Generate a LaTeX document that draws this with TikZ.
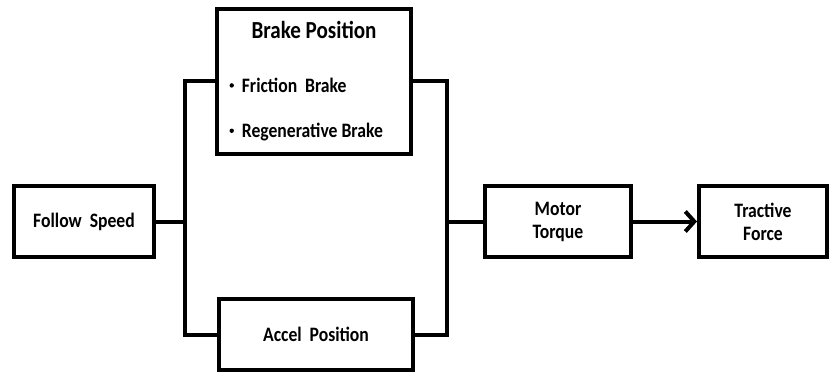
\documentclass[tikz,border=0pt]{standalone}
\usepackage{fontspec}
\setmainfont{Carlito}[FakeStretch=0.86]
\usetikzlibrary{arrows.meta}

\tikzset{
  blockbox/.style={draw,line width=4pt,minimum height=71pt,align=center,
    font=\fontsize{20.5}{23}\selectfont\bfseries},
  wire/.style={line width=4pt},
  itemtext/.style={anchor=west,font=\fontsize{20.5}{23}\selectfont\bfseries},
}
\newcommand{\smallbullet}{\raisebox{0.22em}{\tikz\fill (0,0) circle (2.2pt);}}

\begin{document}
\begin{tikzpicture}[x=1pt,y=-1pt]
    \useasboundingbox (0,0) rectangle (832,374);
    % blocks
    \node[blockbox,minimum width=140pt] (follow) at (84,221.5) {Follow\ \ Speed};
    \node[blockbox,minimum width=194pt,minimum height=145pt] (brake) at (314,81.5) {};
    \node[blockbox,minimum width=194pt] (accel) at (316,334.5) {Accel\ \ Position};
    \node[blockbox,minimum width=146pt] (motor) at (558,221.5) {Motor\\Torque};
    \node[blockbox,minimum width=128pt] (tractive) at (763,221.5) {Tractive\\Force};
    % brake box texts
    \node[font=\fontsize{24.5}{26}\selectfont\bfseries] (braketitle) at (314,30) {Brake Position};
    \node[itemtext] (friction) at (226,85) {\smallbullet\ \ Friction\ \ Brake};
    \node[itemtext] (regen) at (226,132) {\smallbullet\ \ Regenerative Brake};
    % branching points
    \coordinate (split) at (185,221.5);
    \coordinate (join) at (447,221.5);
    % connectors
    \draw[wire] (follow.east) -- (split);
    \draw[wire,line cap=rect] (brake.west) -| (split) |- (accel.west);
    \draw[wire,line cap=rect] (brake.east) -| (join) |- (accel.east);
    \draw[wire] (join) -- (motor.west);
    \draw[wire,-{Straight Barb[length=9pt,width=20pt,line width=4pt]}] (motor.east) -- (tractive.west);
\end{tikzpicture}
\end{document}
